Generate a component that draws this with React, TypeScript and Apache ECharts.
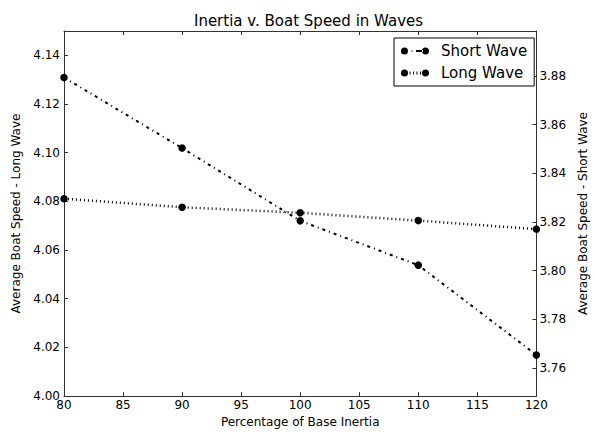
import React, { useEffect, useRef } from "react";
import * as echarts from "echarts";

const inertia = [80, 90, 100, 110, 120];
const shortWave = [3.8794, 3.8504, 3.8205, 3.8023, 3.7654];
const longWave = [4.0811, 4.0776, 4.0753, 4.0721, 4.0686];
const leftTicks = [4.0, 4.02, 4.04, 4.06, 4.08, 4.1, 4.12, 4.14];
const rightTicks = [3.76, 3.78, 3.8, 3.82, 3.84, 3.86, 3.88];

const FONT = "DejaVu Sans";
const AXIS_COLOR = "#333";

const circ = (cx: number, cy: number, r: number) =>
  `M${cx - r},${cy} a${r},${r} 0 1,0 ${2 * r},0 a${r},${r} 0 1,0 ${-2 * r},0 Z`;
const shortIcon =
  "path://" +
  circ(3.5, 3.5, 3.5) +
  circ(24.5, 3.5, 3.5) +
  " M10.5,3 h1.2 v1 h-1.2 Z M15,2.6 h7 v1.8 h-7 Z";
const longIcon =
  "path://" +
  circ(3.5, 3.5, 3.5) +
  circ(24.5, 3.5, 3.5) +
  " M8.5,2 h1 v3 h-1 Z M12,2 h1 v3 h-1 Z M15.5,2 h1 v3 h-1 Z M19,2 h1 v3 h-1 Z";

export default function App() {
  const ref = useRef<HTMLDivElement>(null);
  useEffect(() => {
    if (!ref.current) return;
    const chart = echarts.init(ref.current, undefined, { renderer: "svg" });
    const axisLine = { show: true, lineStyle: { color: AXIS_COLOR, width: 1 } };
    chart.setOption({
      animation: false,
      backgroundColor: "#fff",
      textStyle: { fontFamily: FONT, color: "#000" },
      title: {
        text: "Inertia v. Boat Speed in Waves",
        left: 303.5,
        textAlign: "center",
        top: 8,
        textStyle: { fontFamily: FONT, fontSize: 15, fontWeight: "normal", color: "#000" },
      },
      legend: {
        orient: "vertical",
        left: 394,
        top: 38,
        padding: [5, 7, 5, 7],
        itemGap: 6,
        itemWidth: 28,
        itemHeight: 7,
        borderColor: "#000",
        borderWidth: 1,
        borderRadius: 0,
        backgroundColor: "#fff",
        itemStyle: { color: "#000", borderWidth: 0 },
        textStyle: {
          fontFamily: FONT,
          fontSize: 15,
          color: "#000",
          lineHeight: 16,
          padding: [0, 0, 0, 7],
        },
        data: [
          { name: "Short Wave", icon: shortIcon },
          { name: "Long Wave", icon: longIcon },
        ],
      },
      grid: { left: 64, right: 54, top: 31, bottom: 30, containLabel: false },
      xAxis: [
        {
          type: "value",
          min: 80,
          max: 120,
          interval: 5,
          position: "bottom",
          name: "Percentage of Base Inertia",
          nameLocation: "middle",
          nameGap: 16,
          nameTextStyle: { fontFamily: FONT, fontSize: 12, color: "#000" },
          axisLine,
          axisTick: { show: true, inside: true, length: 4, lineStyle: { color: AXIS_COLOR } },
          axisLabel: { fontFamily: FONT, fontSize: 12, color: "#000", margin: 3 },
          splitLine: { show: false },
        },
        {
          type: "value",
          min: 80,
          max: 120,
          interval: 5,
          position: "top",
          axisLine,
          axisTick: { show: true, inside: true, length: 4, lineStyle: { color: AXIS_COLOR } },
          axisLabel: { show: false },
          splitLine: { show: false },
        },
      ],
      yAxis: [
        {
          type: "value",
          min: 4.0,
          max: 4.15,
          position: "left",
          name: "Average Boat Speed - Long Wave",
          nameLocation: "middle",
          nameRotate: 90,
          nameGap: 38,
          nameTextStyle: { fontFamily: FONT, fontSize: 12, color: "#000" },
          axisLine,
          axisTick: {
            show: true,
            inside: true,
            length: 4,
            customValues: leftTicks,
            lineStyle: { color: AXIS_COLOR },
          },
          axisLabel: {
            fontFamily: FONT,
            fontSize: 12,
            color: "#000",
            margin: 4,
            customValues: leftTicks,
            formatter: (v: number) => v.toFixed(2),
          },
          splitLine: { show: false },
        },
        {
          type: "value",
          min: 3.7485,
          max: 3.8985,
          position: "right",
          name: "Average Boat Speed - Short Wave",
          nameLocation: "middle",
          nameRotate: 90,
          nameGap: 33,
          nameTextStyle: { fontFamily: FONT, fontSize: 12, color: "#000" },
          axisLine,
          axisTick: {
            show: true,
            inside: true,
            length: 4,
            customValues: rightTicks,
            lineStyle: { color: AXIS_COLOR },
          },
          axisLabel: {
            fontFamily: FONT,
            fontSize: 12,
            color: "#000",
            margin: 3,
            customValues: rightTicks,
            formatter: (v: number) => v.toFixed(2),
          },
          splitLine: { show: false },
        },
      ],
      series: [
        {
          name: "Short Wave",
          type: "line",
          xAxisIndex: 0,
          yAxisIndex: 1,
          data: inertia.map((x, i) => [x, shortWave[i]]),
          symbol: "circle",
          symbolSize: 7.5,
          itemStyle: { color: "#000" },
          lineStyle: { color: "#000", width: 2, type: [3, 4, 1, 4] },
          z: 3,
        },
        {
          name: "Long Wave",
          type: "line",
          xAxisIndex: 0,
          yAxisIndex: 0,
          data: inertia.map((x, i) => [x, longWave[i]]),
          symbol: "circle",
          symbolSize: 7.5,
          itemStyle: { color: "#000" },
          lineStyle: { color: "#000", width: 2.5, type: [1, 3] },
          z: 2,
        },
      ],
    });
    return () => chart.dispose();
  }, []);
  return (
    <div
      ref={ref}
      style={{ position: "fixed", left: 0, top: 0, width: 597, height: 433, background: "#fff" }}
    />
  );
}
